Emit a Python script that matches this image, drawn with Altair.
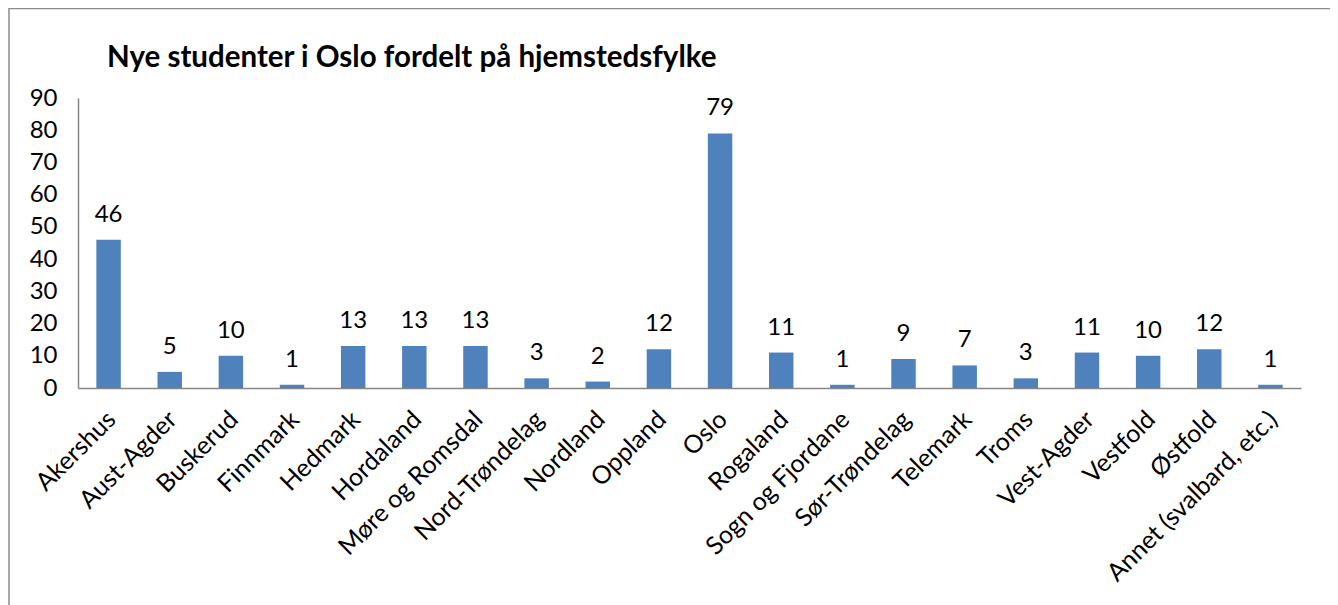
import altair as alt
import pandas as pd

TITLE = "Nye studenter i Oslo fordelt på hjemstedsfylke"

fylker = [
    "Akershus", "Aust-Agder", "Buskerud", "Finnmark", "Hedmark", "Hordaland",
    "Møre og Romsdal", "Nord-Trøndelag", "Nordland", "Oppland", "Oslo",
    "Rogaland", "Sogn og Fjordane", "Sør-Trøndelag", "Telemark", "Troms",
    "Vest-Agder", "Vestfold", "Østfold", "Annet (svalbard, etc.)",
]
studenter = [46, 5, 10, 1, 13, 13, 13, 3, 2, 12, 79, 11, 1, 9, 7, 3, 11, 10, 12, 1]
y_ticks = [0, 10, 20, 30, 40, 50, 60, 70, 80, 90]

df = pd.DataFrame({"fylke": fylker, "antall": studenter})

FONT = "Lato"
GRAY = "#868686"

x = alt.X(
    "fylke:N",
    sort=fylker,
    title=None,
    scale=alt.Scale(paddingInner=0.6, paddingOuter=0.3),
    axis=alt.Axis(
        labelAngle=-45,
        labelAlign="right",
        labelBaseline="middle",
        labelFontSize=25,
        labelFont=FONT,
        labelColor="#000000",
        labelPadding=27,
        labelOffset=3,
        labelLimit=400,
        ticks=False,
        domainColor=GRAY,
        domainWidth=1.5,
        grid=False,
    ),
)
y = alt.Y(
    "antall:Q",
    title=None,
    scale=alt.Scale(domain=[0, 90], nice=False),
    axis=alt.Axis(
        values=y_ticks,
        labelFontSize=24,
        labelFont=FONT,
        labelColor="#000000",
        labelPadding=21,
        ticks=False,
        domainColor=GRAY,
        domainWidth=1.5,
        grid=False,
    ),
)

base = alt.Chart(df)

bars = base.mark_bar(color="#4F81BD").encode(x=x, y=y)
labels = base.mark_text(
    baseline="alphabetic", dy=-18, fontSize=24, font=FONT, color="#000000"
).encode(x=x, y=y, text="antall:Q")

frame = alt.Chart(pd.DataFrame({"f": [0]})).mark_rect(
    fill=None, stroke="#8c8c8c", strokeWidth=1.5, clip=False
).encode(
    x=alt.value(-69), x2=alt.value(1254), y=alt.value(-89.5), y2=alt.value(520)
)

title = alt.Chart(pd.DataFrame({"t": [TITLE]})).mark_text(
    align="left", baseline="alphabetic", fontSize=29.5, fontWeight="bold",
    font=FONT, color="#000000", clip=False
).encode(x=alt.value(29), y=alt.value(-31), text="t:N")

chart = (
    alt.layer(frame, bars, labels, title)
    .properties(
        width=1223,
        height=290,
        autosize=alt.AutoSizeParams(type="none"),
        padding={"left": 70, "top": 90, "right": 29, "bottom": 217},
    )
    .configure_view(stroke=None)
)

chart.save("out.html", embed_options={"renderer": "svg", "actions": False})
